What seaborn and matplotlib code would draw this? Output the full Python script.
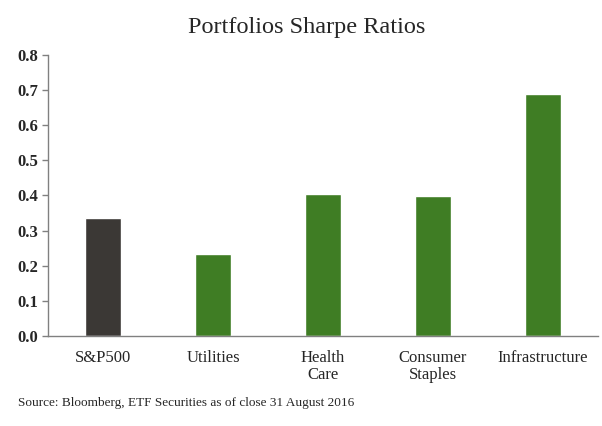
import pandas as pd
import matplotlib.pyplot as plt
import seaborn as sns

# Sharpe ratios
categories = ['S&P500', 'Utilities', 'Health\nCare', 'Consumer\nStaples', 'Infrastructure']
sharpe = [0.335, 0.234, 0.405, 0.399, 0.69]
bar_colors = ['#3b3835', '#3f7d24', '#3f7d24', '#3f7d24', '#3f7d24']
y_ticks = [0.0, 0.1, 0.2, 0.3, 0.4, 0.5, 0.6, 0.7, 0.8]

df = pd.DataFrame({'category': categories, 'sharpe': sharpe})

sns.set_style('white')
plt.rcParams['font.family'] = ['Liberation Serif', 'DejaVu Serif']

fig = plt.figure(figsize=(6.02, 4.26), dpi=100)
ax = fig.add_axes([0.0797, 0.2113, 0.9137, 0.6597])

sns.barplot(data=df, x='category', y='sharpe', hue='category', palette=bar_colors,
            legend=False, width=0.32, saturation=1, ax=ax)

ax.set_ylim(0, 0.8)
ax.set_xlim(-0.5, 4.5)
ax.set_yticks(y_ticks)
ax.set_yticklabels([f'{v:.1f}' for v in y_ticks], fontsize=12, fontweight='bold')
ax.set_xlabel('')
ax.set_ylabel('')

# category labels centred, tick marks at category boundaries
ax.set_xticks(range(len(categories)))
ax.set_xticklabels(categories, fontsize=12, linespacing=1.1)
ax.tick_params(axis='x', length=0, pad=10)
ax.set_xticks([i - 0.5 for i in range(len(categories) + 1)], minor=True)
ax.tick_params(axis='x', which='minor', length=4, color='#808080', width=1, direction='out')
ax.tick_params(axis='y', length=4, color='#808080', width=1, direction='out', left=True, pad=3)

for side in ['top', 'right']:
    ax.spines[side].set_visible(False)
for side in ['left', 'bottom']:
    ax.spines[side].set_color('#808080')
    ax.spines[side].set_linewidth(1)

fig.text(0.51, 0.935, 'Portfolios Sharpe Ratios', ha='center', va='center', fontsize=17.5)
fig.text(0.03, 0.055, 'Source: Bloomberg, ETF Securities as of close 31 August 2016',
         ha='left', va='center', fontsize=9.5)

fig.savefig('out.png', dpi=100)
